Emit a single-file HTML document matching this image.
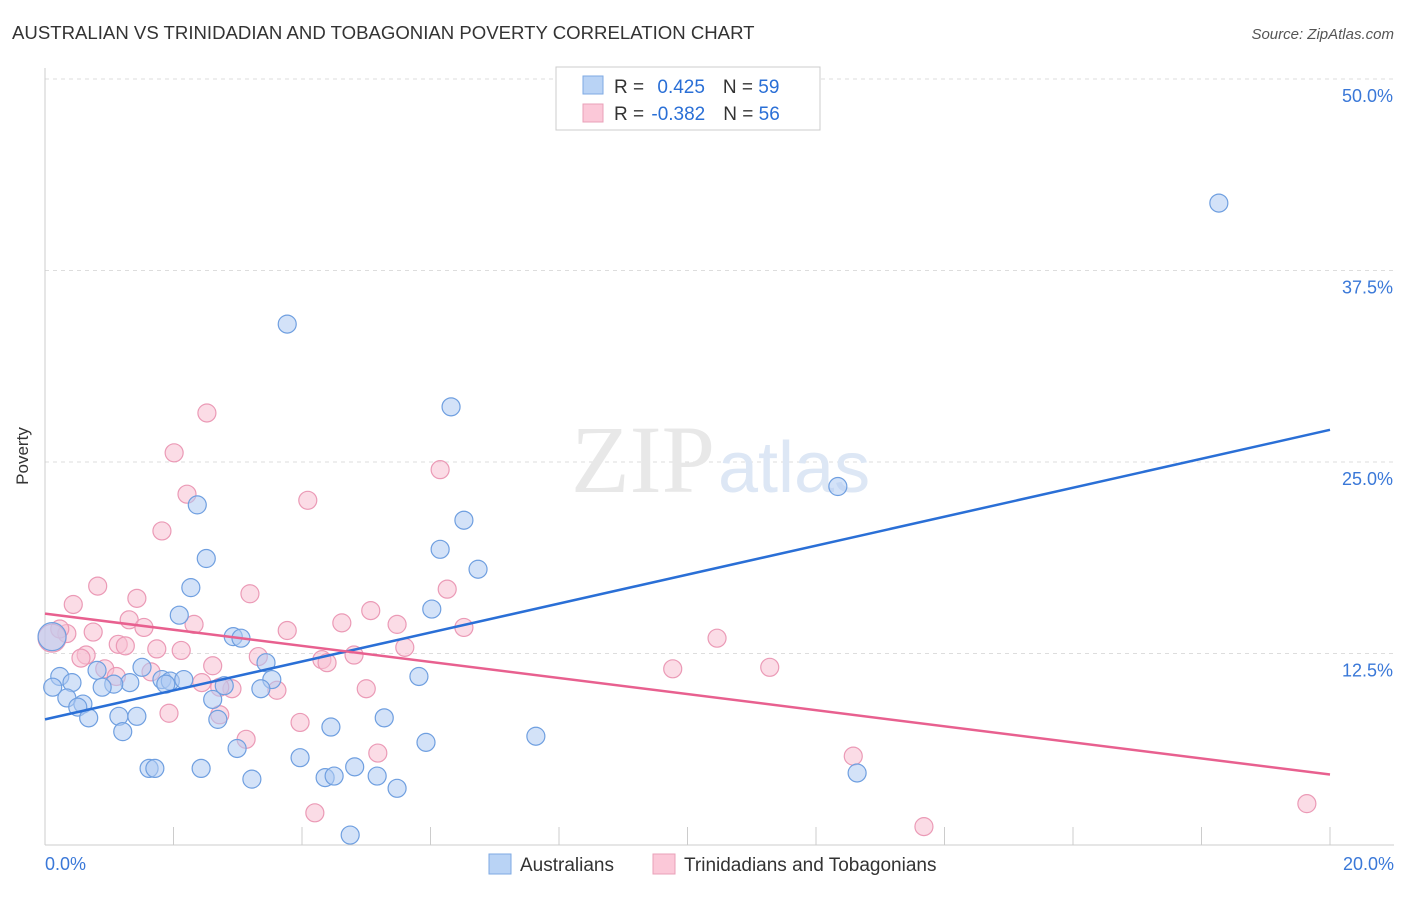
<!DOCTYPE html>
<html><head><meta charset="utf-8"><style>
body{margin:0;background:#fff;font-family:"Liberation Sans",sans-serif}
</style></head><body>
<svg width="1406" height="892" viewBox="0 0 1406 892">
<text x="12" y="39" font-size="18.6" fill="#333">AUSTRALIAN VS TRINIDADIAN AND TOBAGONIAN POVERTY CORRELATION CHART</text>
<text x="1394" y="39" font-size="15" fill="#555" font-style="italic" text-anchor="end">Source: ZipAtlas.com</text>
<g id="grid"></g>
<text x="715" y="492" font-size="96" font-family="Liberation Serif,serif" fill="#e8e8e8" text-anchor="end">ZIP</text>
<text x="718" y="492" font-size="72" fill="#dde7f5">atlas</text>
<line x1="45" y1="68" x2="45" y2="845" stroke="#ccc"/>
<line x1="45" y1="845" x2="1394" y2="845" stroke="#ccc"/>
<g id="xticks"></g>
<text x="28" y="456" font-size="17" fill="#333" transform="rotate(-90 28 456)" text-anchor="middle">Poverty</text>
<text x="45" y="870" font-size="18" fill="#3a78d8">0.0%</text>
<text x="1394" y="870" font-size="18" fill="#3a78d8" text-anchor="end">20.0%</text>
<g id="pink"></g>
<g id="blue"></g>
<g id="lines"></g>
<g>
<rect x="556" y="67" width="264" height="63" fill="#fff" stroke="#ccc"/>
<rect x="583" y="76" width="20" height="18" fill="#b9d3f5" stroke="#7ea9e3"/>
<rect x="583" y="104" width="20" height="18" fill="#fbc8d8" stroke="#eaa0b8"/>
<text x="614" y="93" font-size="19" fill="#333">R = <tspan fill="#2a6fd6" dx="8">0.425</tspan><tspan dx="18" fill="#333">N = </tspan><tspan fill="#2a6fd6">59</tspan></text>
<text x="614" y="120" font-size="19" fill="#333">R = <tspan fill="#2a6fd6" dx="2">-0.382</tspan><tspan dx="18" fill="#333">N = </tspan><tspan fill="#2a6fd6">56</tspan></text>
</g>
<g>
<rect x="489" y="854" width="22" height="20" fill="#b9d3f5" stroke="#7ea9e3"/>
<text x="520" y="871" font-size="19" fill="#333">Australians</text>
<rect x="653" y="854" width="22" height="20" fill="#fbc8d8" stroke="#eaa0b8"/>
<text x="684" y="871" font-size="19" fill="#333">Trinidadians and Tobagonians</text>
</g>
</svg>
<script>
const yTicks=[12.5,25,37.5,50];
const yTickLabels=["12.5%","25.0%","37.5%","50.0%"];
const xTicks=[0,2,4,6,8,10,12,14,16,18,20];
const blueX=[18.27,3.77,6.32,12.34,2.37,6.52,6.15,2.51,6.74,2.27,6.02,2.09,2.93,3.05,0.11,3.44,1.51,0.81,0.23,0.42,1.82,1.95,2.16,1.88,3.53,1.32,1.07,0.89,2.79,0.12,3.36,5.82,0.34,2.61,0.59,0.51,1.15,1.43,0.68,2.69,5.28,4.45,1.21,2.99,5.93,7.64,3.97,4.82,2.43,1.62,1.71,12.64,4.36,4.50,5.17,3.22,5.48,4.75];
const blueY=[41.9,34.0,28.6,23.4,22.2,21.2,19.3,18.7,18.0,16.8,15.4,15.0,13.6,13.5,13.6,11.9,11.6,11.4,11.0,10.6,10.8,10.7,10.8,10.5,10.8,10.6,10.5,10.3,10.4,10.3,10.2,11.0,9.6,9.5,9.2,9.0,8.4,8.4,8.3,8.2,8.3,7.7,7.4,6.3,6.7,7.1,5.7,5.1,5.0,5.0,5.0,4.7,4.4,4.5,4.5,4.3,3.7,0.65];
const pinkX=[2.52,2.01,6.15,2.21,4.09,1.82,0.82,3.19,1.43,0.44,6.26,5.07,1.31,2.32,4.62,5.48,6.52,0.75,1.54,0.34,0.23,0.11,3.77,10.46,1.14,1.25,5.60,1.74,2.12,4.81,0.64,0.56,3.32,4.31,4.39,2.61,0.93,11.28,9.77,1.65,1.11,2.44,2.91,2.72,3.61,5.00,1.93,2.72,3.97,3.13,5.18,12.58,4.20,19.64,13.68];
const pinkY=[28.2,25.6,24.5,22.9,22.5,20.5,16.9,16.4,16.1,15.7,16.7,15.3,14.7,14.4,14.5,14.4,14.2,13.9,14.2,13.8,14.1,13.5,14.0,13.5,13.1,13.0,12.9,12.8,12.7,12.4,12.4,12.2,12.3,12.1,11.9,11.7,11.5,11.6,11.5,11.3,11.0,10.6,10.2,10.3,10.1,10.2,8.6,8.5,8.0,6.9,6.0,5.8,2.1,2.7,1.2];
const blueBig=[14];
const pinkBig=[21];
const blueLine=[8.2,27.1];
const pinkLine=[15.1,4.6];
const NS="http://www.w3.org/2000/svg";
const xs=v=>45+v/20*1285, ys=v=>845-v/50*766;
function mk(t,a,p){const e=document.createElementNS(NS,t);for(const k in a)e.setAttribute(k,a[k]);p.appendChild(e);return e;}
const grid=document.getElementById('grid');
yTicks.forEach((v,i)=>{
 const l=mk('line',{x1:45,x2:1394,y1:ys(v),y2:ys(v),stroke:'#ddd','stroke-dasharray':'4,4'},grid);
 
 
 const t=mk('text',{x:1393,y:ys(v)+23,'font-size':18,fill:'#3a78d8','text-anchor':'end'},grid);
 t.textContent=yTickLabels[i];
 
 
});
const xt=document.getElementById('xticks');
xTicks.forEach(v=>{
 const l=mk('line',{x1:xs(v),x2:xs(v),y1:827,y2:845,stroke:'#ccc'},xt);
 
 
});
function pts(X,Y,g,fill,stroke,name,big){
 X.forEach((x,i)=>{
  const c=mk('circle',{cx:xs(x),cy:ys(Y[i]),r:big.includes(i)?14:9,fill:fill,'fill-opacity':0.55,stroke:stroke,'stroke-width':1.2},g);
  
  
 });
}
pts(pinkX,pinkY,document.getElementById('pink'),'#f8bfd1','#eb9ab6','trinidadian-point',pinkBig);
pts(blueX,blueY,document.getElementById('blue'),'#aecbf2','#6f9fe0','australian-point',blueBig);
const lg=document.getElementById('lines');
const bl=mk('line',{x1:xs(0),y1:ys(blueLine[0]),x2:xs(20),y2:ys(blueLine[1]),stroke:'#2a6fd6','stroke-width':2.5},lg);


const pl=mk('line',{x1:xs(0),y1:ys(pinkLine[0]),x2:xs(20),y2:ys(pinkLine[1]),stroke:'#e8608f','stroke-width':2.5},lg);


</script>
</body></html>
